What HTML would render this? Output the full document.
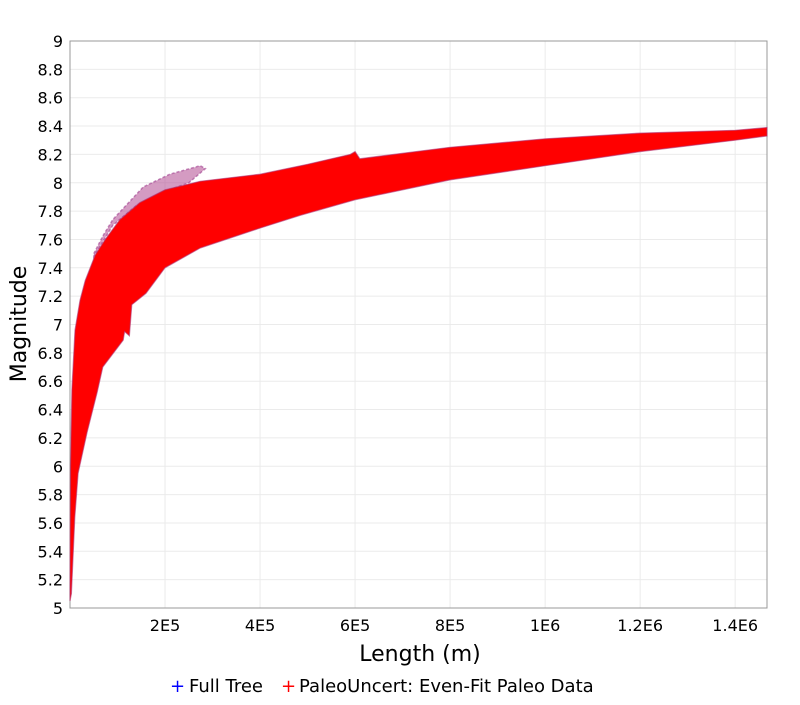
<!DOCTYPE html>
<html><head><meta charset="utf-8"><style>
body{margin:0;background:#fff;font-family:"Liberation Sans","DejaVu Sans",sans-serif}
</style></head><body>
<svg id="chart" width="800" height="700" xmlns="http://www.w3.org/2000/svg" font-family="DejaVu Sans, Liberation Sans, sans-serif"></svg>
<script>
// Data (length in units of 1e5 m, magnitude)
const yTicks=[5,5.2,5.4,5.6,5.8,6,6.2,6.4,6.6,6.8,7,7.2,7.4,7.6,7.8,8,8.2,8.4,8.6,8.8,9];
const yTickLabels=["5","5.2","5.4","5.6","5.8","6","6.2","6.4","6.6","6.8","7","7.2","7.4","7.6","7.8","8","8.2","8.4","8.6","8.8","9"];
const xTicks=[2,4,6,8,10,12,14];
const xTickLabels=["2E5","4E5","6E5","8E5","1E6","1.2E6","1.4E6"];
const upperL=[0,0.01,0.04,0.105,0.21,0.32,0.53,0.74,1.05,1.47,2.0,2.74,4.0,5.0,5.9,6.0,6.1,8,10,12,14,14.67];
const upperM=[5.1,6.0,6.54,6.96,7.17,7.31,7.49,7.6,7.74,7.86,7.95,8.01,8.06,8.13,8.2,8.22,8.17,8.25,8.31,8.35,8.37,8.39];
const lowerL=[14.67,14,12,10,8,6,4.84,4.0,2.74,2.0,1.6,1.3,1.25,1.15,1.12,0.69,0.57,0.36,0.17,0.1,0.03,0];
const lowerM=[8.33,8.3,8.22,8.12,8.02,7.88,7.77,7.68,7.54,7.4,7.22,7.14,6.92,6.95,6.89,6.7,6.52,6.24,5.95,5.64,5.1,5.05];
const plumeL=[0.5,0.7,0.9,1.54,2.1,2.74,2.85,2.5,2.0,1.4,0.9,0.5];
const plumeM=[7.5,7.63,7.74,7.97,8.06,8.12,8.1,8.0,7.94,7.84,7.7,7.48];

const L=70,R=767,T=41,B=608,XMAX=14.67;
const X=v=>L+v/XMAX*(R-L);
const Y=v=>B-(v-5)/4*(B-T);
const svg=document.getElementById('chart');
const NS='http://www.w3.org/2000/svg';
function mk(tag,attrs,parent){const e=document.createElementNS(NS,tag);for(const k in attrs)e.setAttribute(k,attrs[k]);(parent||svg).appendChild(e);return e;}

const grid=mk('g',{});


yTicks.forEach((t,i)=>{
  mk('line',{x1:L,x2:R,y1:Y(t),y2:Y(t),stroke:'#ebebeb','stroke-width':1},grid);
  const tx=mk('text',{x:63,y:Y(t)+6,'text-anchor':'end','font-size':16,fill:'#000'});
  tx.textContent=yTickLabels[i];
  
  
});
xTicks.forEach((t,i)=>{
  mk('line',{x1:X(t),x2:X(t),y1:T,y2:B,stroke:'#ebebeb','stroke-width':1},grid);
  const tx=mk('text',{x:X(t),y:631,'text-anchor':'middle','font-size':16,fill:'#000'});
  tx.textContent=xTickLabels[i];
  
  
});
mk('rect',{x:L,y:T,width:R-L,height:B-T,fill:'none',stroke:'#999','stroke-width':1});

function poly(ls,ms){return ls.map((l,i)=>X(l).toFixed(1)+','+Y(ms[i]).toFixed(1)).join(' ');}
const plume=mk('polygon',{points:poly(plumeL,plumeM),fill:'#b04890','fill-opacity':0.55,stroke:'#a04090','stroke-opacity':0.6,'stroke-width':1.5,'stroke-dasharray':'3 2'});


const band=mk('polygon',{points:poly(upperL.concat(lowerL),upperM.concat(lowerM)),fill:'#ff0000',stroke:'#b03070','stroke-width':1.2,'stroke-opacity':0.6});



const yt=mk('text',{x:26,y:324,'text-anchor':'middle','font-size':22,transform:'rotate(-90 26 324)'});
yt.textContent='Magnitude';


const xt=mk('text',{x:420,y:661,'text-anchor':'middle','font-size':22});
xt.textContent='Length (m)';



const lg=mk('g',{});


const t1=mk('text',{x:170,y:692,'font-size':18,fill:'#0000ff'},lg);t1.textContent='+';


const l1=mk('text',{x:189,y:692,'font-size':18,fill:'#000'},lg);l1.textContent='Full Tree';


const t2=mk('text',{x:281,y:692,'font-size':18,fill:'#ff0000'},lg);t2.textContent='+';


const l2=mk('text',{x:299,y:692,'font-size':18,fill:'#000'},lg);l2.textContent='PaleoUncert: Even-Fit Paleo Data';


</script>
</body></html>
